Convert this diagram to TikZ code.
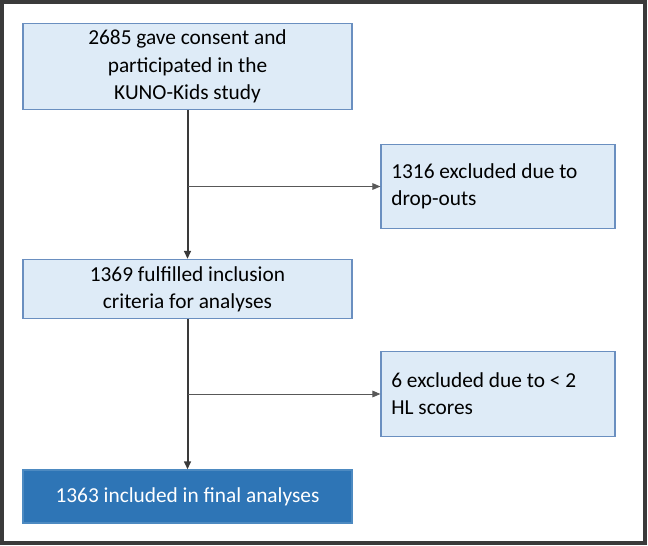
\documentclass[tikz,border=0pt]{standalone}
\usepackage{fontspec}
\setmainfont{Carlito}
\usetikzlibrary{positioning,arrows.meta,calc}
\definecolor{hellblau}{HTML}{DEEBF7}
\definecolor{rahmblau}{HTML}{6A8FC0}
\definecolor{dunkelblau}{HTML}{2E75B6}
\definecolor{linie}{HTML}{3A3A3A}
\tikzset{
  kasten/.style={rectangle,draw=rahmblau,fill=hellblau,line width=0.9pt,minimum width=246.75pt,
    align=center,inner sep=5pt,font=\fontsize{16}{20.5}\selectfont},
  seite/.style={rectangle,draw=rahmblau,fill=hellblau,line width=0.9pt,minimum width=175.5pt,
    minimum height=63.5pt,text width=160pt,align=flush left,inner sep=7.5pt,font=\fontsize{16}{20.5}\selectfont},
  ende/.style={rectangle,draw=dunkelblau!85!white,fill=dunkelblau,line width=0.9pt,minimum width=246.75pt,
    minimum height=39.75pt,text=white,align=center,font=\fontsize{16}{20.5}\selectfont},
  haupt/.style={-{Triangle[length=6pt,width=5pt]},line width=1.5pt,draw=linie},
  ast/.style={-{Triangle[length=6pt,width=5pt]},line width=0.7pt,draw=linie!85!white},
}
\begin{document}
\begin{tikzpicture}[x=0.75pt,y=-0.75pt]
\useasboundingbox (0,0) rectangle (648,545);
\draw[line width=2.4pt,draw=linie] (2,2) rectangle (645,543);
% linke Spalte
\node[kasten,minimum height=63.75pt] (a) at (187.5,66.5) {2685 gave consent and\\participated in the\\KUNO-Kids study};
\node[kasten,minimum height=39pt] (b) at (187.5,289) {1369 fulfilled inclusion\\criteria for analyses};
\node[ende] (c) at (187.5,496.5) {1363 included in final analyses};
% rechte Spalte
\node[seite] (d) at (498,186.5) {1316 excluded due to\\drop-outs};
\node[seite] (e) at (498,394) {6 excluded due to < 2\\HL scores};
% Pfeile
\draw[haupt] (a.south) -- (b.north);
\draw[haupt] (b.south) -- (c.north);
\coordinate (k1) at (a.south |- d.west);
\coordinate (k2) at (b.south |- e.west);
\draw[ast] (k1) -- (d.west);
\draw[ast] (k2) -- (e.west);
\end{tikzpicture}
\end{document}
